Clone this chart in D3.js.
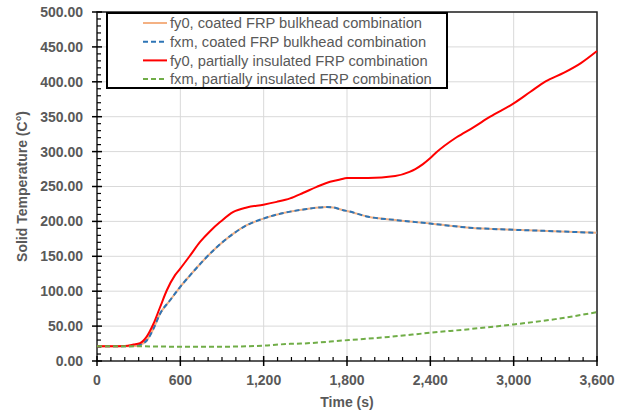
<!DOCTYPE html>
<html lang="en">
<head>
  <meta charset="UTF-8" />
  <title>Solid Temperature</title>
  <script src="https://d3js.org/d3.v7.min.js"></script>
  <style>
    body { margin: 0; background: white; }
    svg { display: block; font-family: "Liberation Sans", Arial, sans-serif; }
    .tick-label { font-size: 14px; font-weight: bold; fill: #595959; }
    .axis-title { font-size: 14px; font-weight: bold; fill: #595959; }
    .legend text { font-size: 14.7px; fill: #595959; }
  </style>
</head>
<body>
  <svg width="617" height="414"></svg>
  <script>
    // series data (time in s, temperature in C)
    const coatedTime = [0, 100, 200, 280, 320, 358, 406, 454, 526, 598, 670, 766, 862, 982, 1078, 1198, 1342, 1486, 1654, 1700, 1774, 1800, 1953, 2147, 2396, 2680, 3000, 3286, 3600];
    const coatedFy0 = [21, 21, 21, 21.5, 24, 29.4, 46, 67.7, 87, 106, 122.7, 144, 163, 182.5, 194.5, 204, 212, 217, 220.5, 220, 216, 215, 206.6, 202, 197, 191, 188, 186, 183.6];
    const coatedFxm = [21, 21, 21, 21.5, 24, 29.4, 46, 67.7, 87, 106, 122.7, 144, 163, 182.5, 194.5, 204, 212, 217, 220.5, 220, 216, 215, 206.6, 202, 197, 191, 188, 186, 183.6];

    const insulTime = [0, 100, 200, 262, 310, 358, 406, 454, 502, 562, 598, 670, 742, 814, 886, 982, 1078, 1198, 1294, 1390, 1486, 1582, 1678, 1750, 1800, 1953, 2147, 2250, 2292, 2347, 2396, 2444, 2589, 2710, 2831, 3000, 3121, 3230, 3363, 3484, 3600];
    const insulFy0 = [21, 21, 21.5, 23.5, 25.6, 35, 53, 77, 101, 123, 132, 151, 170.6, 186, 199, 213.6, 220, 224, 228, 233, 241, 249.5, 256.7, 260, 262, 262, 265, 271, 275, 282, 290, 299, 320.5, 334.8, 350, 369, 385.7, 400.5, 413, 426.7, 444];

    const insulFxmTime = [0, 300, 600, 900, 1200, 1390, 1468, 1774, 2100, 2396, 2700, 3000, 3300, 3600];
    const insulFxm = [21, 21, 20.5, 20.5, 22, 24.6, 25, 29.4, 34.5, 40.4, 46, 52.4, 60, 70];

    const xTicks = [0, 600, 1200, 1800, 2400, 3000, 3600];
    const yTicks = [0, 50, 100, 150, 200, 250, 300, 350, 400, 450, 500];

    const seriesNames = [
      "fy0, coated FRP bulkhead combination",
      "fxm, coated FRP bulkhead combination",
      "fy0, partially insulated FRP combination",
      "fxm, partially insulated FRP combination"
    ];

    const series = [
      { name: seriesNames[0], t: coatedTime, v: coatedFy0, color: "#f4b183", dash: null, w: 2 },
      { name: seriesNames[1], t: coatedTime, v: coatedFxm, color: "#2e75b6", dash: "5,3", w: 2 },
      { name: seriesNames[2], t: insulTime, v: insulFy0, color: "#ff0000", dash: null, w: 2 },
      { name: seriesNames[3], t: insulFxmTime, v: insulFxm, color: "#70ad47", dash: "5,3", w: 2 }
    ];

    const svg = d3.select("svg");
    const plotLeft = 97, plotRight = 597, plotTop = 12, plotBottom = 361;

    const x = d3.scaleLinear().domain([0, 3600]).range([plotLeft, plotRight]);
    const y = d3.scaleLinear().domain([0, 500]).range([plotBottom, plotTop]);

    // gridlines
    svg.append("g").selectAll("line").data(yTicks.slice(1)).join("line")
      .attr("x1", plotLeft).attr("x2", plotRight)
      .attr("y1", d => y(d)).attr("y2", d => y(d))
      .attr("stroke", "#d9d9d9").attr("stroke-width", 1);
    svg.append("g").selectAll("line").data(xTicks.slice(1)).join("line")
      .attr("y1", plotTop).attr("y2", plotBottom)
      .attr("x1", d => x(d)).attr("x2", d => x(d))
      .attr("stroke", "#d9d9d9").attr("stroke-width", 1);

    // plot frame
    svg.append("rect")
      .attr("x", plotLeft).attr("y", plotTop)
      .attr("width", plotRight - plotLeft).attr("height", plotBottom - plotTop)
      .attr("fill", "none").attr("stroke", "#222").attr("stroke-width", 1.5);

    // minor ticks (inside)
    svg.append("g").selectAll("line").data(d3.range(0, 500, 10).filter(d => d % 50 !== 0)).join("line")
      .attr("x1", plotLeft).attr("x2", plotLeft + 4)
      .attr("y1", d => y(d)).attr("y2", d => y(d))
      .attr("stroke", "#000").attr("stroke-width", 1.2);
    svg.append("g").selectAll("line").data(d3.range(0, 3600, 100).filter(d => d % 600 !== 0)).join("line")
      .attr("y1", plotBottom).attr("y2", plotBottom - 4)
      .attr("x1", d => x(d)).attr("x2", d => x(d))
      .attr("stroke", "#000").attr("stroke-width", 1.2);

    // major ticks (crossing)
    svg.append("g").selectAll("line").data(yTicks).join("line")
      .attr("x1", plotLeft - 5).attr("x2", plotLeft + 5)
      .attr("y1", d => y(d)).attr("y2", d => y(d))
      .attr("stroke", "#000").attr("stroke-width", 1.5);
    svg.append("g").selectAll("line").data(xTicks).join("line")
      .attr("y1", plotBottom - 5).attr("y2", plotBottom + 5)
      .attr("x1", d => x(d)).attr("x2", d => x(d))
      .attr("stroke", "#000").attr("stroke-width", 1.5);

    // tick labels
    svg.append("g").selectAll("text").data(yTicks).join("text")
      .attr("class", "tick-label")
      .attr("x", plotLeft - 14).attr("y", d => y(d))
      .attr("dy", "0.35em").attr("text-anchor", "end")
      .text(d => d3.format(".2f")(d));
    svg.append("g").selectAll("text").data(xTicks).join("text")
      .attr("class", "tick-label")
      .attr("x", d => x(d)).attr("y", plotBottom + 19)
      .attr("dy", "0.35em").attr("text-anchor", "middle")
      .text(d => d3.format(",")(d));

    // axis titles
    svg.append("text").attr("class", "axis-title")
      .attr("x", (plotLeft + plotRight) / 2).attr("y", 402).attr("dy", "0.35em")
      .attr("text-anchor", "middle").text("Time (s)");
    svg.append("text").attr("class", "axis-title")
      .attr("transform", `translate(22, ${(plotTop + plotBottom) / 2}) rotate(-90)`)
      .attr("dy", "0.35em").attr("text-anchor", "middle")
      .text("Solid Temperature (C°)");

    // lines
    const line = d3.line()
      .x(d => x(d[0])).y(d => y(d[1]))
      .curve(d3.curveMonotoneX);

    svg.append("g").selectAll("path").data(series).join("path")
      .attr("d", s => line(s.t.map((t, i) => [t, s.v[i]])))
      .attr("fill", "none")
      .attr("stroke", s => s.color)
      .attr("stroke-width", s => s.w)
      .attr("stroke-dasharray", s => s.dash);

    // legend
    const legend = svg.append("g").attr("class", "legend");
    legend.append("rect")
      .attr("x", 107).attr("y", 13).attr("width", 340).attr("height", 75)
      .attr("fill", "white").attr("stroke", "#000").attr("stroke-width", 2);

    const rows = legend.selectAll("g.row").data(series).join("g")
      .attr("class", "row")
      .attr("transform", (d, i) => `translate(0, ${23 + i * 18.7})`);
    rows.append("line")
      .attr("x1", 143).attr("x2", 167).attr("y1", 0).attr("y2", 0)
      .attr("stroke", d => d.color).attr("stroke-width", 2)
      .attr("stroke-dasharray", d => d.dash);
    rows.append("text")
      .attr("x", 170).attr("y", 0).attr("dy", "0.35em")
      .text(d => d.name);
  </script>
</body>
</html>
